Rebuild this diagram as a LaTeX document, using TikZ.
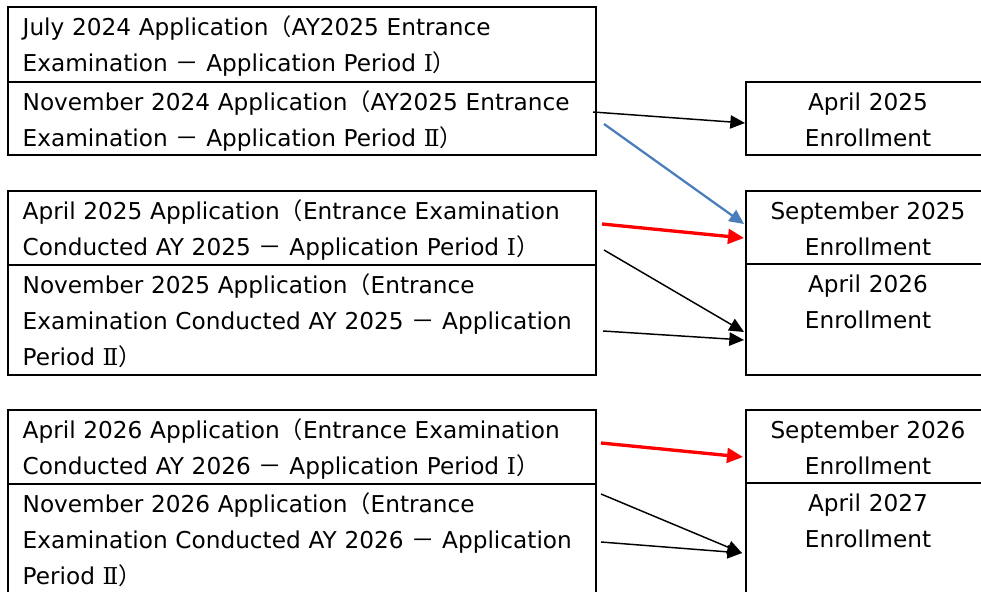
\documentclass[tikz,border=0pt]{standalone}
\usepackage{fontspec}
\setmainfont{DejaVu Sans}
\newfontfamily\cjkfont{Noto Sans CJK JP}
\newfontfamily\numfont{DejaVu Serif}
\newcommand{\jlp}{{\cjkfont （}}
\newcommand{\jrp}{{\cjkfont ）}}
\newcommand{\jdash}{{\cjkfont －}}
\newcommand{\rI}{{\numfont Ⅰ}}
\newcommand{\rII}{{\numfont Ⅱ}}
\usepackage{tikz}
\usetikzlibrary{arrows.meta, calc, positioning}
\definecolor{arrowblue}{RGB}{74,126,187}
\tikzset{
x=0.75pt, y=-0.75pt, % one unit is one pixel of the reference, y goes down
cellfont/.style={font=\fontsize{17.4}{27}\selectfont},
appbox/.style={draw, cellfont, line width=1.5pt, outer sep=0pt, text width=419pt, align=left,
  inner xsep=11pt, inner ysep=0pt, text height=21.5pt}, % application cells, left column
enrbox/.style={draw, cellfont, line width=1.5pt, outer sep=0pt, text width=183pt, align=center,
  inner xsep=0pt, inner ysep=0pt, text height=21pt}, % enrollment cells, right column
blackarrow/.style={line width=1.1pt, -{Triangle[length=11pt,width=10pt]}},
bluearrow/.style={line width=1.7pt, draw=arrowblue, -{Triangle[length=11pt,width=10pt,fill=arrowblue]}},
redarrow/.style={line width=2.5pt, draw=red, -{Triangle[length=12pt,width=11pt,fill=red]}},
}

\begin{document}
\begin{tikzpicture}
  \useasboundingbox (0,0) rectangle (981,592);
  \clip (0,0) rectangle (981,592);

  % application periods
  \node[appbox, anchor=north west, text depth=34.75pt] (jul24) at (8,7)
    {July 2024 Application\jlp AY2025 Entrance\\Examination \jdash{} Application Period \rI\jrp};
  \node[appbox, text depth=33.25pt, below right=0pt of jul24.south west] (nov24)
    {November 2024 Application\jlp AY2025 Entrance\\Examination \jdash{} Application Period \rII\jrp};

  \node[appbox, text depth=34pt, below right=27pt and 0pt of nov24.south west] (apr25app)
    {April 2025 Application\jlp Entrance Examination\\Conducted AY 2025 \jdash{} Application Period \rI\jrp};
  \node[appbox, text depth=61pt, below right=0pt of apr25app.south west] (nov25app)
    {November 2025 Application\jlp Entrance\\Examination Conducted AY 2025 \jdash{} Application\\Period \rII\jrp};

  \node[appbox, text depth=34pt, below right=26.25pt and 0pt of nov25app.south west] (apr26app)
    {April 2026 Application\jlp Entrance Examination\\Conducted AY 2026 \jdash{} Application Period \rI\jrp};
  \node[appbox, text depth=61pt, below right=0pt of apr26app.south west] (nov26app)
    {November 2026 Application\jlp Entrance\\Examination Conducted AY 2026 \jdash{} Application\\Period \rII\jrp};

  % enrollment terms
  \node[enrbox, anchor=north west, text depth=33.75pt] (apr25enr) at (746,82) {April 2025\\Enrollment};
  \node[enrbox, text depth=33.75pt, below right=27pt and 0pt of apr25enr.south west] (sep25enr) {September 2025\\Enrollment};
  \node[enrbox, text depth=62.25pt, below right=0pt of sep25enr.south west] (apr26enr) {April 2026\\Enrollment};
  \node[enrbox, text depth=33.75pt, below right=26.25pt and 0pt of apr26enr.south west] (sep26enr) {September 2026\\Enrollment};
  \node[enrbox, text depth=62.25pt, below right=0pt of sep26enr.south west] (apr27enr) {April 2027\\Enrollment};

  \draw[blackarrow] ($(nov24.east)+(-3,-6.5)$) -- ($(apr25enr.west)+(-1,4.5)$);
  \draw[bluearrow] ($(nov24.east)+(8,5.5)$) -- ($(sep25enr.west)+(-2,-3.5)$);
  \draw[redarrow] ($(apr25app.east)+(6,-4)$) -- ($(sep25enr.west)+(-2,10.5)$);
  \draw[blackarrow] ($(apr25app.east)+(8,22)$) -- ($(apr26enr.west)+(-2,12.5)$);
  \draw[blackarrow] ($(nov25app.east)+(7,11)$) -- ($(apr26enr.west)+(-2,20.5)$);
  \draw[redarrow] ($(apr26app.east)+(5,-4)$) -- ($(sep26enr.west)+(-3,10.5)$);
  \draw[blackarrow] ($(nov26app.north east)+(5,10)$) -- ($(apr27enr.west)+(-4,14.5)$);
  \draw[blackarrow] ($(nov26app.east)+(5,3)$) -- ($(apr27enr.west)+(-4,14.5)$);
\end{tikzpicture}
\end{document}
